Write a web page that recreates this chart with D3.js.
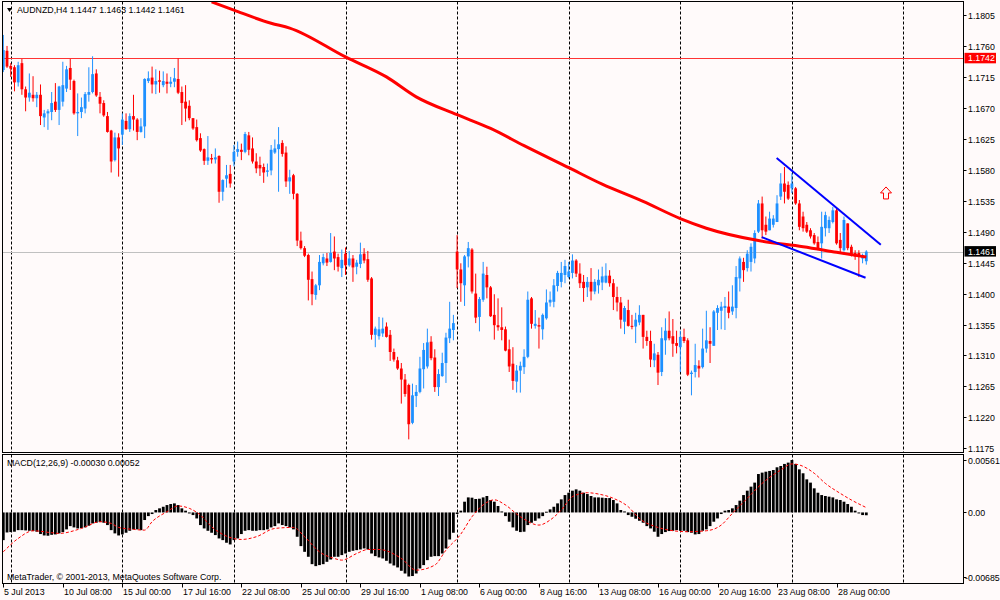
<!DOCTYPE html>
<html>
<head>
<meta charset="utf-8">
<script src="https://cdn.jsdelivr.net/npm/d3@7"></script>
<style>
  body { margin: 0; background: #fffafa; }
  svg text { font-family: "Liberation Sans", Arial, sans-serif; font-size: 8.8px; fill: #000; }
</style>
</head>
<body>
<svg id="chart" width="1000" height="600"></svg>
<script>
// AUDNZD H4, prices in 1/10000 (1.1461 -> 11461), one entry per bar
var opens = [11725,11753,11731,11729,11707,11735,11697,11685,11689,11684,
11689,11656,11662,11664,11679,11667,11679,11698,11728,11709,
11662,11664,11669,11689,11693,11720,11686,11677,11658,11637,
11594,11627,11631,11651,11639,11658,11653,11635,11643,11709,
11714,11704,11710,11703,11708,11705,11708,11712,11693,11679,
11673,11655,11642,11626,11610,11593,11597,11595,11600,11548,
11567,11574,11592,11606,11609,11606,11630,11611,11592,11587,
11584,11577,11579,11605,11610,11619,11605,11563,11572,11545,
11477,11466,11456,11421,11398,11412,11444,11451,11446,11461,
11453,11437,11458,11441,11451,11439,11443,11458,11450,11422,
11340,11338,11342,11352,11340,11315,11303,11291,11275,11267,
11212,11251,11257,11290,11294,11330,11307,11264,11280,11299,
11335,11347,11461,11435,11412,11454,11464,11400,11366,11391,
11427,11409,11369,11354,11351,11348,11319,11298,11272,11288,
11293,11308,11393,11353,11354,11348,11364,11387,11388,11411,
11417,11427,11424,11430,11448,11429,11417,11409,11417,11403,
11412,11416,11416,11426,11415,11395,11387,11359,11376,11353,
11352,11358,11369,11337,11331,11303,11311,11286,11332,11346,
11338,11328,11322,11337,11332,11283,11286,11295,11293,11320,
11331,11324,11372,11375,11379,11381,11374,11379,11422,11446,
11437,11446,11451,11490,11531,11500,11492,11500,11504,11541,
11560,11558,11553,11553,11531,11512,11500,11492,11485,11475,
11473,11495,11495,11504,11521,11478,11463,11502,11468,11459,
11459,11451,11447];

var highs = [11776,11760,11735,11732,11737,11741,11701,11720,11716,11693,
11704,11667,11668,11693,11706,11702,11737,11731,11741,11711,
11691,11685,11693,11729,11745,11726,11693,11681,11664,11638,
11634,11633,11662,11662,11662,11689,11655,11655,11713,11723,
11730,11726,11724,11723,11720,11715,11728,11742,11701,11703,
11681,11655,11653,11633,11611,11629,11603,11611,11601,11566,
11587,11587,11616,11621,11618,11635,11635,11627,11604,11599,
11589,11589,11616,11624,11642,11623,11614,11580,11574,11546,
11490,11469,11458,11432,11414,11456,11458,11459,11488,11483,
11458,11464,11467,11462,11456,11449,11474,11466,11462,11424,
11352,11366,11365,11358,11347,11320,11308,11299,11283,11269,
11269,11267,11308,11328,11349,11338,11319,11290,11314,11343,
11388,11369,11485,11444,11456,11475,11466,11429,11395,11446,
11439,11411,11399,11393,11380,11352,11333,11322,11296,11301,
11319,11403,11395,11376,11365,11371,11406,11403,11421,11433,
11446,11449,11446,11457,11450,11444,11427,11424,11437,11421,
11435,11439,11444,11434,11421,11410,11395,11382,11391,11369,
11372,11383,11369,11346,11346,11327,11315,11351,11364,11374,
11363,11346,11346,11349,11335,11288,11327,11303,11349,11375,
11351,11376,11383,11388,11395,11403,11412,11440,11454,11452,
11463,11473,11492,11536,11541,11512,11519,11514,11543,11575,
11584,11563,11575,11555,11536,11519,11504,11495,11488,11483,
11519,11519,11512,11526,11524,11488,11512,11502,11471,11463,
11463,11458,11463];

var lows = [11722,11728,11715,11694,11701,11689,11665,11679,11679,11671,
11645,11642,11638,11652,11664,11645,11672,11693,11696,11660,
11629,11655,11662,11679,11691,11686,11662,11657,11634,11576,
11592,11570,11616,11638,11635,11637,11623,11634,11626,11706,
11691,11690,11692,11700,11691,11700,11700,11690,11645,11650,
11652,11638,11621,11606,11587,11587,11589,11589,11532,11535,
11554,11554,11585,11599,11594,11604,11601,11589,11575,11571,
11561,11570,11572,11603,11548,11599,11555,11545,11537,11469,
11464,11453,11390,11383,11391,11405,11441,11440,11445,11434,
11432,11424,11427,11439,11417,11428,11437,11444,11417,11333,
11322,11333,11337,11336,11302,11301,11289,11240,11250,11188,
11210,11235,11255,11262,11291,11303,11257,11251,11279,11270,
11328,11332,11408,11388,11382,11438,11400,11357,11345,11388,
11393,11366,11333,11346,11332,11316,11286,11260,11256,11256,
11283,11306,11349,11349,11320,11333,11362,11381,11380,11403,
11409,11415,11422,11422,11424,11408,11388,11395,11390,11399,
11400,11405,11415,11410,11376,11374,11349,11341,11352,11348,
11328,11354,11320,11324,11293,11293,11267,11280,11311,11332,
11308,11313,11286,11328,11280,11252,11278,11278,11291,11314,
11299,11324,11347,11348,11347,11364,11369,11364,11403,11417,
11432,11432,11444,11488,11480,11485,11492,11496,11504,11536,
11531,11536,11546,11529,11492,11490,11488,11480,11471,11463,
11451,11483,11488,11502,11471,11458,11461,11463,11454,11449,
11424,11444,11442];

var closes = [11754,11730,11727,11707,11732,11697,11685,11692,11684,11689,
11658,11662,11665,11677,11667,11701,11703,11726,11711,11662,
11664,11671,11690,11693,11719,11688,11676,11659,11635,11592,
11627,11611,11653,11639,11658,11653,11635,11643,11712,11713,
11704,11709,11708,11709,11705,11708,11713,11692,11677,11669,
11655,11640,11623,11608,11593,11598,11595,11598,11548,11565,
11572,11560,11606,11610,11606,11632,11609,11592,11582,11582,
11576,11579,11609,11611,11617,11603,11563,11569,11545,11477,
11466,11455,11420,11399,11412,11446,11453,11445,11459,11451,
11439,11449,11441,11451,11438,11445,11457,11448,11420,11340,
11349,11348,11349,11337,11315,11304,11291,11275,11254,11210,
11252,11257,11291,11318,11329,11306,11264,11283,11299,11336,
11349,11357,11435,11415,11454,11466,11403,11365,11392,11429,
11409,11367,11354,11351,11347,11317,11294,11273,11288,11295,
11308,11391,11356,11356,11352,11369,11387,11391,11412,11430,
11430,11440,11432,11448,11429,11415,11408,11417,11403,11417,
11420,11425,11426,11415,11395,11387,11362,11379,11353,11352,
11362,11369,11337,11331,11304,11313,11285,11335,11346,11335,
11327,11324,11337,11331,11282,11285,11296,11291,11320,11332,
11327,11374,11379,11381,11382,11372,11381,11424,11451,11434,
11458,11468,11488,11531,11492,11490,11509,11509,11531,11560,
11548,11538,11560,11531,11497,11495,11490,11483,11473,11466,
11497,11514,11507,11521,11473,11466,11507,11466,11456,11454,
11455,11456,11461];

// moving average, read at sample bars: [bar, price]
var maPoints = [[56,11824],[62,11812],[72,11793],[77,11786],[92,11744],[103,11715],
  [111,11686],[122,11660],[131,11640],[140,11615],[152,11583],[161,11559],[172,11534],
  [182,11509],[189,11495],[203,11477],[215,11468],[224,11460],[232,11453]];

// MACD(12,26,9) main values, in 1e-5
var macdMain = [-296,-214,-210,-206,-189,-189,-192,-196,-199,-206,
-231,-246,-249,-239,-235,-224,-210,-181,-146,-160,
-171,-167,-160,-142,-117,-110,-103,-110,-135,-189,
-224,-246,-235,-217,-196,-181,-181,-189,-81,-39,
-17,26,44,61,79,90,97,79,44,19,
-3,-28,-64,-135,-171,-196,-217,-242,-278,-296,
-324,-342,-296,-278,-231,-196,-189,-196,-196,-189,
-189,-181,-160,-146,-117,-135,-146,-160,-181,-260,
-360,-421,-474,-553,-574,-563,-553,-528,-503,-474,
-474,-456,-439,-421,-410,-403,-396,-385,-396,-439,
-467,-481,-492,-517,-546,-567,-588,-624,-653,-685,
-680,-653,-599,-563,-510,-474,-467,-467,-439,-385,
-289,-217,-17,19,115,161,158,144,147,161,
176,133,115,69,11,-39,-99,-160,-196,-210,
-206,-135,-110,-89,-64,-39,8,33,61,97,
140,186,211,233,247,233,211,197,176,161,
161,158,154,154,133,97,26,11,-28,-46,
-67,-89,-110,-146,-171,-206,-260,-231,-210,-199,
-196,-189,-196,-196,-210,-217,-235,-231,-196,-181,
-146,-99,-64,-17,19,26,44,79,126,186,
233,276,319,411,426,436,444,454,483,497,
519,533,561,519,461,419,354,319,258,211,
186,176,169,161,140,133,115,90,61,19,
-10,-28,-30];

// signal line read at sample bars: [bar, value 1e-5]
var macdSignal = [[0,-421],[4,-278],[8,-196],[13,-217],[15,-224],[21,-171],[26,-99],[29,-117],
  [31,-160],[35,-181],[38,-189],[40,-99],[44,8],[47,69],[50,44],[53,-28],[56,-153],[60,-253],
  [64,-289],[68,-260],[73,-171],[78,-160],[81,-260],[85,-421],[89,-492],[91,-510],[95,-439],
  [98,-396],[101,-396],[107,-492],[111,-617],[116,-563],[119,-403],[123,-231],[126,-46],
  [130,108],[132,135],[135,79],[139,-46],[144,-135],[147,-81],[150,26],[153,169],[157,211],
  [160,197],[164,151],[168,61],[171,-64],[176,-160],[179,-189],[184,-206],[189,-196],
  [193,-135],[196,-10],[200,151],[204,311],[209,454],[212,519],[214,508],[218,419],
  [221,311],[225,204],[228,133],[232,52]];

var priceTicks = [11805,11760,11715,11670,11625,11580,11535,11490,11445,11400,11355,11310,11265,11220,11175];
var macdTicks = [561, 0, -685];
var timeIdx = [0,16,32,48,64,80,96,112,128,144,160,176,192,208,224];
var timeLabels = ['5 Jul 2013','10 Jul 08:00','15 Jul 00:00','17 Jul 16:00','22 Jul 08:00',
  '25 Jul 00:00','29 Jul 16:00','1 Aug 08:00','6 Aug 00:00','8 Aug 16:00','13 Aug 08:00',
  '16 Aug 00:00','20 Aug 16:00','23 Aug 08:00','28 Aug 00:00'];
var gridIdx = [2,32,62,92,122,152,182,212,242];

var levelLine = 11742;
var trendUpper = [[207.9,11597],[235.9,11471]];
var trendLower = [[203.9,11482],[231.8,11423]];
var arrowAt = [237.3,11555];

// ---- layout
var frame = { l: 2.5, r: 963.5, t: 1.5, mainB: 452.5, macdT: 454.5, macdB: 583.5 };
var bg = '#fffafa', bull = '#1e90ff', bear = '#ff0000';

var svg = d3.select('#chart');
svg.append('rect').attr('width', 1000).attr('height', 600).attr('fill', bg);

var x = d3.scaleLinear().domain([0, 232]).range([3.3, 866.3]);
var y = d3.scaleLinear().domain([11175, 11805]).range([448.3, 15]);
var ym = d3.scaleLinear().domain([-685, 561]).range([576.5, 460]);
var fmt = function (v) { return (v / 10000).toFixed(4); };
var crisp = function (v) { return Math.round(v) + 0.5; };

var defs = svg.append('defs');
defs.append('clipPath').attr('id', 'clipMain').append('rect')
  .attr('x', frame.l).attr('y', frame.t).attr('width', frame.r - frame.l).attr('height', frame.mainB - frame.t);
defs.append('clipPath').attr('id', 'clipMacd').append('rect')
  .attr('x', frame.l).attr('y', frame.macdT).attr('width', frame.r - frame.l).attr('height', frame.macdB - frame.macdT);

// vertical grid
var grid = svg.append('g').attr('stroke', '#000').attr('stroke-dasharray', '3,2');
gridIdx.forEach(function (i) {
  grid.append('line').attr('x1', crisp(x(i))).attr('x2', crisp(x(i)))
    .attr('y1', frame.t).attr('y2', frame.mainB);
  grid.append('line').attr('x1', crisp(x(i))).attr('x2', crisp(x(i)))
    .attr('y1', frame.macdT).attr('y2', frame.macdB);
});

// main panel
var main = svg.append('g').attr('clip-path', 'url(#clipMain)');
var last = closes.length - 1;

main.append('line').attr('x1', frame.l).attr('x2', frame.r)
  .attr('y1', crisp(y(closes[last]))).attr('y2', crisp(y(closes[last])))
  .attr('stroke', '#c0c0c0');
main.append('line').attr('x1', frame.l).attr('x2', frame.r)
  .attr('y1', crisp(y(levelLine))).attr('y2', crisp(y(levelLine)))
  .attr('stroke', '#ff3333');

var candles = main.append('g').selectAll('g')
  .data(d3.range(closes.length))
  .enter().append('g')
  .attr('fill', function (i) { return closes[i] >= opens[i] ? bull : bear; })
  .attr('stroke', function (i) { return closes[i] >= opens[i] ? bull : bear; });

candles.append('line')
  .attr('x1', function (i) { return x(i); })
  .attr('x2', function (i) { return x(i); })
  .attr('y1', function (i) { return y(highs[i]); })
  .attr('y2', function (i) { return y(lows[i]); })
  .attr('stroke-width', 1);

candles.append('rect')
  .attr('stroke', 'none')
  .attr('x', function (i) { return x(i) - 1.4; })
  .attr('width', 2.8)
  .attr('y', function (i) { return y(Math.max(opens[i], closes[i])); })
  .attr('height', function (i) {
    return Math.max(1, Math.abs(y(opens[i]) - y(closes[i])));
  });

var maLine = d3.line()
  .x(function (d) { return x(d[0]); })
  .y(function (d) { return y(d[1]); })
  .curve(d3.curveMonotoneX);
main.append('path').datum(maPoints)
  .attr('d', maLine)
  .attr('fill', 'none').attr('stroke', '#ff0000').attr('stroke-width', 3);

[trendUpper, trendLower].forEach(function (t) {
  main.append('line')
    .attr('x1', x(t[0][0])).attr('y1', y(t[0][1]))
    .attr('x2', x(t[1][0])).attr('y2', y(t[1][1]))
    .attr('stroke', '#0000ff').attr('stroke-width', 2);
});

main.append('path')
  .attr('transform', 'translate(' + x(arrowAt[0]) + ',' + y(arrowAt[1]) + ')')
  .attr('d', 'M0,0 L5.5,6 L2.5,6 L2.5,12 L-2.5,12 L-2.5,6 L-5.5,6 Z')
  .attr('fill', bg).attr('stroke', '#ff0000').attr('stroke-width', 1);

// MACD panel
var macd = svg.append('g').attr('clip-path', 'url(#clipMacd)');
macd.append('g').selectAll('rect')
  .data(macdMain)
  .enter().append('rect')
  .attr('x', function (d, i) { return x(i) - 1.4; })
  .attr('width', 2.8)
  .attr('y', function (d) { return Math.min(ym(d), ym(0)); })
  .attr('height', function (d) { return Math.max(1, Math.abs(ym(d) - ym(0))); })
  .attr('fill', '#000');

var sigLine = d3.line()
  .x(function (d) { return x(d[0]); })
  .y(function (d) { return ym(d[1]); })
  .curve(d3.curveMonotoneX);
macd.append('path').datum(macdSignal)
  .attr('d', sigLine)
  .attr('fill', 'none').attr('stroke', '#ff0000').attr('stroke-width', 1)
  .attr('stroke-dasharray', '3,2');

// frames
var frames = svg.append('g').attr('fill', 'none').attr('stroke', '#000');
frames.append('rect').attr('x', frame.l).attr('y', frame.t)
  .attr('width', frame.r - frame.l).attr('height', frame.mainB - frame.t);
frames.append('rect').attr('x', frame.l).attr('y', frame.macdT)
  .attr('width', frame.r - frame.l).attr('height', frame.macdB - frame.macdT);

// price axis
var pAxis = svg.append('g');
priceTicks.forEach(function (v) {
  var yy = crisp(y(v));
  pAxis.append('line').attr('x1', frame.r).attr('x2', frame.r + 3).attr('y1', yy).attr('y2', yy).attr('stroke', '#000');
  pAxis.append('text').attr('x', 968).attr('y', yy + 3).text(fmt(v));
});

function priceTag(v, fill) {
  var yy = y(v);
  pAxis.append('rect').attr('x', 964.5).attr('y', yy - 5.5).attr('width', 31.5).attr('height', 10.5).attr('fill', fill);
  pAxis.append('text').attr('x', 968).attr('y', yy + 3).style('fill', '#fff').text(fmt(v));
}
priceTag(levelLine, '#ff0000');
priceTag(closes[last], '#000');

// MACD axis
macdTicks.forEach(function (v) {
  var yy = crisp(ym(v));
  pAxis.append('line').attr('x1', frame.r).attr('x2', frame.r + 3).attr('y1', yy).attr('y2', yy).attr('stroke', '#000');
  pAxis.append('text').attr('x', v < 0 ? 965 : 968).attr('y', yy + 3)
    .text(v === 0 ? '0.00' : (v / 100000).toFixed(5));
});

// time axis
var tAxis = svg.append('g');
timeIdx.forEach(function (i, k) {
  var xx = crisp(x(i));
  tAxis.append('line').attr('x1', xx).attr('x2', xx).attr('y1', frame.macdB).attr('y2', frame.macdB + 4).attr('stroke', '#000');
  tAxis.append('text').attr('x', xx + 0.5).attr('y', 595).text(timeLabels[k]);
});

// headers
svg.append('path').attr('d', 'M7,8 L12,8 L9.5,12 Z').attr('fill', '#000');
svg.append('text').attr('x', 17).attr('y', 13)
  .text('AUDNZD,H4  ' + [opens[last], highs[last], lows[last], closes[last]].map(fmt).join(' '));
svg.append('text').attr('x', 7).attr('y', 466)
  .text('MACD(12,26,9) ' + (macdMain[last] / 100000).toFixed(5) + ' ' +
    (macdSignal[macdSignal.length - 1][1] / 100000).toFixed(5));
svg.append('text').attr('x', 7).attr('y', 580)
  .text('MetaTrader, \u00a9 2001-2013, MetaQuotes Software Corp.');
</script>
</body>
</html>
